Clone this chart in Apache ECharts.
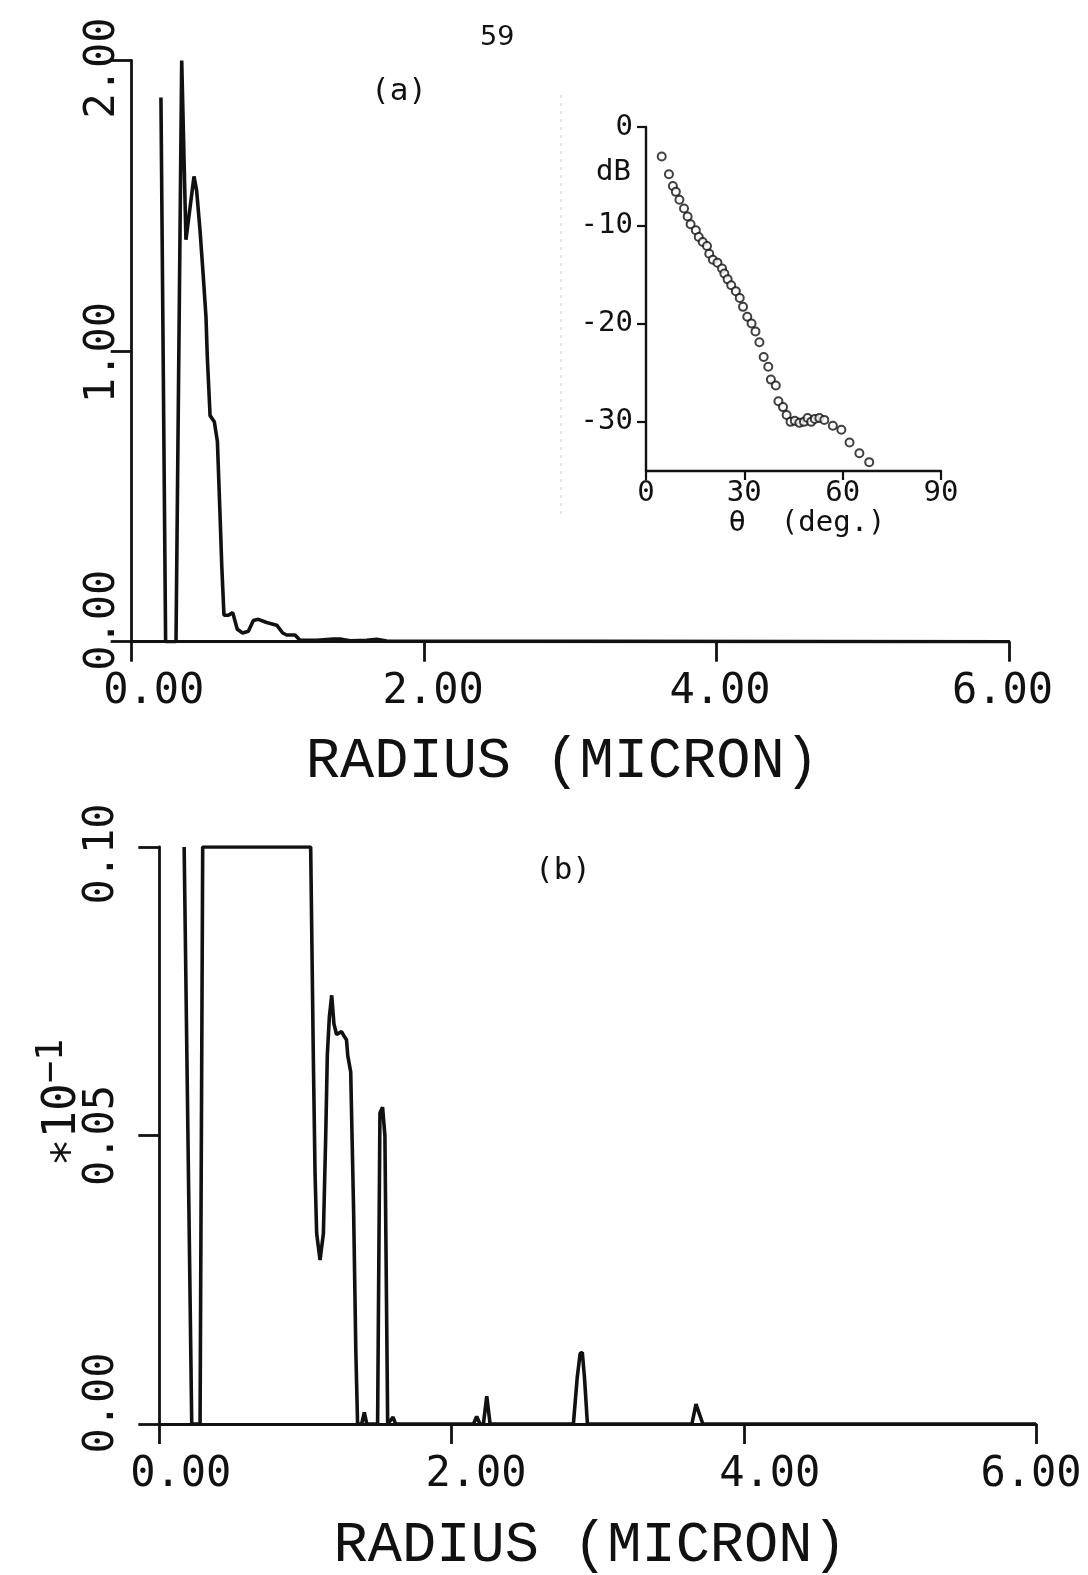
<!DOCTYPE html>
<html><head><meta charset="utf-8">
<script src="https://cdn.jsdelivr.net/npm/echarts@6/dist/echarts.min.js"></script>
<style>html,body{margin:0;padding:0;background:#fff}#c{width:1088px;height:1575px}</style>
</head><body><div id="c"></div>
<script>
// ---- data ----
// panel (a): size distribution
const radiusA = [0.20,0.232,0.303,0.342,0.371,0.426,0.444,0.467,0.490,0.508,0.517,0.536,0.565,0.586,0.604,0.616,0.631,0.661,0.691,0.722,0.759,0.798,0.832,0.866,0.923,0.992,1.033,1.060,1.117,1.151,1.265,1.379,1.425,1.494,1.607,1.676,1.744,6.0];
const densityA = [1.873,0,0,2.0,1.383,1.601,1.553,1.417,1.254,1.118,0.982,0.778,0.757,0.690,0.438,0.261,0.091,0.091,0.100,0.043,0.030,0.036,0.073,0.077,0.066,0.057,0.030,0.023,0.023,0.005,0.005,0.009,0.009,0.003,0.005,0.008,0.002,0];
// panel (b): (x10^-1)
const radiusB = [0.17,0.222,0.279,0.297,1.036,1.054,1.066,1.077,1.10,1.123,1.139,1.15,1.164,1.18,1.195,1.213,1.247,1.263,1.281,1.29,1.31,1.33,1.345,1.357,1.385,1.403,1.42,1.494,1.51,1.528,1.544,1.563,1.60,1.617,2.15,2.172,2.195,2.218,2.241,2.264,2.834,2.86,2.88,2.895,2.91,2.93,3.645,3.673,3.72,6.0];
const densityB = [0.10,0,0,0.10,0.10,0.0638,0.0433,0.033,0.0284,0.033,0.050,0.064,0.0706,0.0743,0.0694,0.0675,0.068,0.0673,0.0666,0.0638,0.061,0.0367,0.0126,0,0,0.002,0,0,0.0539,0.0549,0.050,0,0.0012,0,0,0.0013,0,0,0.0048,0,0,0.008,0.0122,0.0124,0.008,0,0,0.00345,0,0];
// inset: scattering pattern
const thetaDeg = [4.8,7.0,8.2,9.1,10.2,11.6,12.7,13.6,15.2,16.1,17.3,18.6,19.3,20.4,21.8,23.2,23.9,24.9,26.0,27.4,28.6,29.6,30.9,32.2,33.4,34.6,35.9,37.3,38.1,39.6,40.4,41.8,42.9,44.1,45.4,46.8,48.2,49.3,50.4,51.5,52.9,54.4,57.0,59.6,62.1,65.1,68.1];
const scatterDb = [-3.0,-4.8,-6.0,-6.6,-7.4,-8.3,-9.1,-9.9,-10.5,-11.2,-11.7,-12.1,-12.9,-13.5,-13.8,-14.4,-14.9,-15.5,-16.1,-16.7,-17.4,-18.3,-19.3,-20.0,-20.8,-21.9,-23.4,-24.4,-25.7,-26.3,-27.9,-28.5,-29.3,-30.0,-29.9,-30.1,-30.0,-29.6,-30.0,-29.7,-29.6,-29.8,-30.4,-30.8,-32.1,-33.2,-34.1];
// tick labels
const xTickLabels = ['0.00','2.00','4.00','6.00'];
const yTickLabelsA = ['0.00','1.00','2.00'];
const yTickLabelsB = ['0.00','0.05','0.10'];
const insetXTicks = [0,30,60,90];
const insetYTicks = [0,-10,-20,-30];
const xTitle = 'RADIUS (MICRON)';
const insetXTitle = 'θ  (deg.)';

// ---- styling ----
const INK = '#111';
const MONO = 'DejaVu Sans Mono';
const tickFont = {fontFamily: MONO, fontSize: 42, color: INK};
const axisLine = {show: true, onZero: false, lineStyle: {color: INK, width: 2.8}};
function padRich(list, fontStyle) {
  const r = {};
  list.forEach((p, i) => { r['t' + i] = Object.assign({padding: p}, fontStyle); });
  return r;
}
const pairs = (xs, ys) => xs.map((x, i) => [x, ys[i]]);

const chart = echarts.init(document.getElementById('c'), null, {renderer: 'canvas'});
chart.setOption({
  animation: false,
  backgroundColor: '#fff',
  grid: [
    {left: 131.7, top: 60.5, width: 877.3, height: 581.2},
    {left: 159.3, top: 847, width: 876.7, height: 580},
    {left: 646, top: 127, width: 295, height: 344}
  ],
  xAxis: [
    {gridIndex: 0, type: 'value', min: 0, max: 6, interval: 2,
     axisLine: axisLine, splitLine: {show: false},
     axisTick: {show: true, inside: false, length: 20, lineStyle: {color: INK, width: 2.8}},
     axisLabel: {margin: 29, formatter: (v, i) => '{t' + i + '|' + xTickLabels[i] + '}',
       rich: padRich([[0,0,0,44],[0,0,0,18],[0,0,0,7],[0,13,0,0]], tickFont)},
     name: xTitle, nameLocation: 'middle', nameGap: 92,
     nameTextStyle: {fontFamily: 'Liberation Mono', fontSize: 57, color: INK, padding: [0, 16, 0, 0]}},
    {gridIndex: 1, type: 'value', min: 0, max: 6, interval: 2,
     axisLine: axisLine, splitLine: {show: false},
     axisTick: {show: true, inside: false, length: 20, lineStyle: {color: INK, width: 2.8}},
     axisLabel: {margin: 30, formatter: (v, i) => '{t' + i + '|' + xTickLabels[i] + '}',
       rich: padRich([[0,0,0,43],[0,0,0,49],[0,0,0,52],[0,10,0,0]], tickFont)},
     name: xTitle, nameLocation: 'middle', nameGap: 93,
     nameTextStyle: {fontFamily: 'Liberation Mono', fontSize: 57, color: INK, padding: [0, 15, 0, 0]}},
    {gridIndex: 2, type: 'value', min: 0, max: 90, interval: 30,
     axisLine: {show: true, onZero: false, lineStyle: {color: INK, width: 2.4}}, splitLine: {show: false},
     axisTick: {show: true, length: 9, lineStyle: {color: INK, width: 2.2}},
     axisLabel: {margin: 8, fontFamily: MONO, fontSize: 29, color: INK,
       formatter: v => String(insetXTicks[insetXTicks.indexOf(v)])},
     name: insetXTitle, nameLocation: 'middle', nameGap: 28,
     nameTextStyle: {fontFamily: MONO, fontSize: 29, color: INK, padding: [0, 0, 0, 27]}}
  ],
  yAxis: [
    {gridIndex: 0, type: 'value', min: 0, max: 2, interval: 1,
     axisLine: axisLine, splitLine: {show: false},
     axisTick: {show: true, length: 21, lineStyle: {color: INK, width: 2.8}},
     axisLabel: {rotate: 90, margin: 8, formatter: (v, i) => '{t' + i + '|' + yTickLabelsA[i] + '}',
       rich: padRich([[0,0,0,43],[0,3,0,0],[0,15,0,0]], tickFont)}},
    {gridIndex: 1, type: 'value', min: 0, max: 0.1, interval: 0.05,
     axisLine: axisLine, splitLine: {show: false},
     axisTick: {show: true, length: 21, lineStyle: {color: INK, width: 2.8}},
     axisLabel: {rotate: 90, margin: 36, formatter: (v, i) => '{t' + i + '|' + yTickLabelsB[i] + '}',
       rich: padRich([[0,0,0,42],[0,0,0,0],[0,14,0,0]], tickFont)},
     name: '{m|∗10}{s|−1}', nameLocation: 'middle', nameRotate: 90, nameGap: 68,
     nameMoveOverlap: false,
     nameTextStyle: {padding: [0, 0, 0, 66], rich: {
       m: {fontFamily: MONO, fontSize: 46, color: INK},
       s: {fontFamily: MONO, fontSize: 37, color: INK, padding: [0, 0, 20, 0]}}}},
    {gridIndex: 2, type: 'value', min: -35, max: 0,
     axisLine: {show: true, onZero: false, lineStyle: {color: INK, width: 2.4}}, splitLine: {show: false},
     axisTick: {show: true, length: 9, customValues: insetYTicks, lineStyle: {color: INK, width: 2.2}},
     axisLabel: {margin: 13, fontFamily: MONO, fontSize: 29, color: INK, customValues: insetYTicks,
       formatter: v => String(v)}}
  ],
  graphic: [
    {type: 'line', shape: {x1: 561, y1: 95, x2: 561, y2: 515}, silent: true,
     style: {stroke: '#c8c8c8', lineWidth: 1, lineDash: [3, 5]}},
    {type: 'text', left: 480, top: 24, style: {text: '59', font: '27px "DejaVu Sans"', fill: INK}},
    {type: 'text', left: 371, top: 76, style: {text: '(a)', font: '31px "DejaVu Sans Mono"', fill: INK}},
    {type: 'text', left: 535, top: 855, style: {text: '(b)', font: '31px "DejaVu Sans Mono"', fill: INK}},
    {type: 'text', left: 596, top: 158, style: {text: 'dB', font: '29px "DejaVu Sans Mono"', fill: INK}}
  ],
  series: [
    {type: 'line', xAxisIndex: 0, yAxisIndex: 0, data: pairs(radiusA, densityA),
     showSymbol: false, symbol: 'none', lineStyle: {color: INK, width: 3.6}, clip: true},
    {type: 'line', xAxisIndex: 1, yAxisIndex: 1, data: pairs(radiusB, densityB),
     showSymbol: false, symbol: 'none', lineStyle: {color: INK, width: 3.6}, clip: true},
    {type: 'scatter', xAxisIndex: 2, yAxisIndex: 2, data: pairs(thetaDeg, scatterDb),
     symbol: 'circle', symbolSize: 8, itemStyle: {color: '#fff', borderColor: INK, borderWidth: 2}}
  ]
});
</script></body></html>
